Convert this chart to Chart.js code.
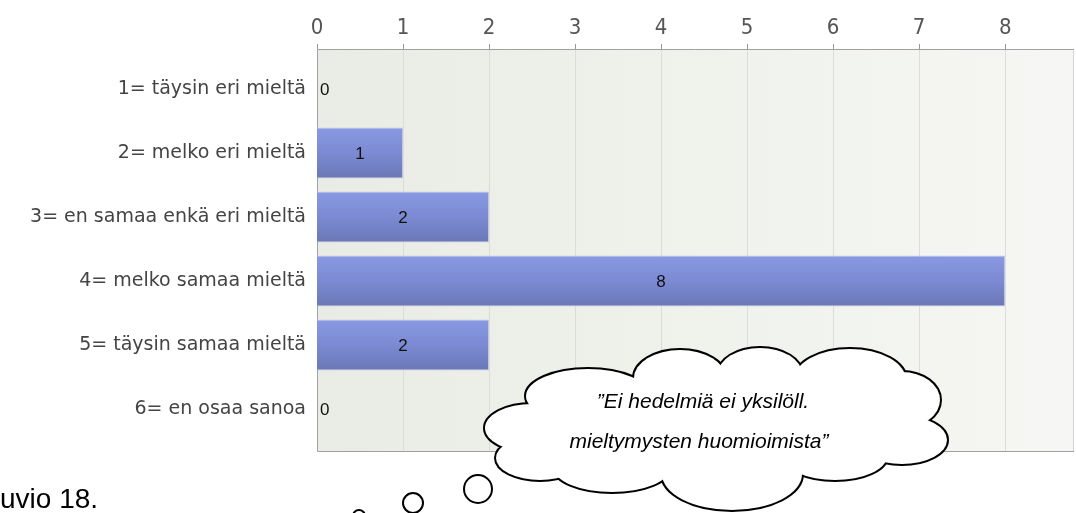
<!DOCTYPE html>
<html>
<head>
<meta charset="utf-8">
<script src="https://cdn.jsdelivr.net/npm/chart.js@4.4.1/dist/chart.umd.min.js"></script>
<style>
  html, body { margin: 0; padding: 0; background: #fff; overflow: hidden; }
</style>
</head>
<body>
<canvas id="chart" width="1076" height="513"></canvas>
<script>
const categories = [
  '1= täysin eri mieltä',
  '2= melko eri mieltä',
  '3= en samaa enkä eri mieltä',
  '4= melko samaa mieltä',
  '5= täysin samaa mieltä',
  '6= en osaa sanoa'
];
const counts = [0, 1, 2, 8, 2, 0];
const xTicks = [0, 1, 2, 3, 4, 5, 6, 7, 8];
const xMax = 8.8;
const bubbleLines = ['\u201dEi hedelmiä ei yksilöll.', 'mieltymysten huomioimista\u201d'];
const caption = 'uvio 18.';

const barPct = 0.8;

// plot background, grid lines and frame (drawn a bit larger than the category band)
const framePlugin = {
  id: 'frame',
  beforeDraw(chart) {
    const { ctx, chartArea } = chart;
    const xs = chart.scales.x;
    const left = xs.getPixelForValue(0);
    const right = chartArea.right;
    const top = chartArea.top - 8;
    const bottom = chartArea.bottom + 10;
    ctx.save();
    const g = ctx.createLinearGradient(left, 0, right, 0);
    g.addColorStop(0, '#e9ece4');
    g.addColorStop(1, '#f6f7f4');
    ctx.fillStyle = g;
    ctx.fillRect(left, top, right - left, bottom - top);

    ctx.lineWidth = 1;
    xTicks.forEach(v => {
      const px = Math.round(xs.getPixelForValue(v)) + 0.5;
      if (v > 0) {
        ctx.strokeStyle = '#dcdddb';
        ctx.beginPath();
        ctx.moveTo(px, top);
        ctx.lineTo(px, bottom);
        ctx.stroke();
      }
      ctx.strokeStyle = '#999';
      ctx.beginPath();
      ctx.moveTo(px, top - 5);
      ctx.lineTo(px, top);
      ctx.stroke();
    });

    ctx.strokeStyle = '#d4d4d4';
    ctx.beginPath();
    ctx.moveTo(right - 0.5, top);
    ctx.lineTo(right - 0.5, bottom);
    ctx.stroke();

    ctx.strokeStyle = '#a0a0a0';
    ctx.beginPath();
    ctx.moveTo(right, top + 0.5);
    ctx.lineTo(Math.round(left) + 0.5, top + 0.5);
    ctx.lineTo(Math.round(left) + 0.5, bottom + 0.5);
    ctx.lineTo(right, bottom + 0.5);
    ctx.stroke();
    ctx.restore();
  }
};

// value labels: centred in the bar, or just right of the axis for zero
const valueLabels = {
  id: 'valueLabels',
  afterDatasetsDraw(chart) {
    const { ctx } = chart;
    const meta = chart.getDatasetMeta(0);
    ctx.save();
    ctx.font = '17px "Liberation Sans", Arial, sans-serif';
    ctx.fillStyle = '#111';
    ctx.textBaseline = 'middle';
    meta.data.forEach((bar, i) => {
      const { x, y, base } = bar.getProps(['x', 'y', 'base'], true);
      const v = counts[i];
      if (v > 0) {
        ctx.textAlign = 'center';
        ctx.fillText(String(v), (x + base) / 2, y + 1);
      } else {
        ctx.textAlign = 'left';
        ctx.fillText(String(v), base + 3, y + 1);
      }
    });
    ctx.restore();
  }
};

// thought cloud + caption
const cloudPlugin = {
  id: 'cloud',
  afterDraw(chart) {
    const { ctx } = chart;
    ctx.save();
    // lobes as [cx, cy, rx, ry]
    const lobes = [
      [532, 428, 47, 24], [588, 396, 62, 27], [680, 378, 46, 28],
      [760, 374, 42, 26], [850, 380, 56, 31], [902, 400, 38, 28],
      [902, 440, 45, 24], [835, 456, 52, 24], [732, 474, 70, 36],
      [612, 468, 58, 24], [540, 458, 44, 22]
    ];
    const path = ([x, y, rx, ry]) => {
      ctx.beginPath();
      ctx.ellipse(x, y, rx, ry, 0, 0, Math.PI * 2);
    };
    ctx.strokeStyle = '#000';
    ctx.lineWidth = 4;
    lobes.forEach(l => { path(l); ctx.stroke(); });
    ctx.fillStyle = '#fff';
    lobes.forEach(l => { path(l); ctx.fill(); });
    path([716, 428, 185, 50]);
    ctx.fill();

    ctx.lineWidth = 2;
    [[478, 489, 14], [413, 503, 10], [359, 516, 6]].forEach(([x, y, r]) => {
      ctx.beginPath();
      ctx.arc(x, y, r, 0, Math.PI * 2);
      ctx.fill();
      ctx.stroke();
    });

    ctx.fillStyle = '#000';
    ctx.textAlign = 'center';
    ctx.textBaseline = 'middle';
    ctx.font = 'italic 21px "Liberation Sans", Arial, sans-serif';
    ctx.fillText(bubbleLines[0], 703, 402);
    ctx.fillText(bubbleLines[1], 699, 442);

    ctx.textAlign = 'left';
    ctx.textBaseline = 'alphabetic';
    ctx.font = '28px "Liberation Sans", Arial, sans-serif';
    ctx.fillText(caption, 0, 508);
    ctx.restore();
  }
};

new Chart(document.getElementById('chart'), {
  type: 'bar',
  data: {
    labels: categories,
    datasets: [{
      data: counts,
      backgroundColor: c => {
        const ys = c.chart.scales.y;
        if (!ys || ys.top === undefined) return '#7b8bd3';
        const center = ys.getPixelForValue(c.dataIndex);
        const half = (ys.getPixelForValue(1) - ys.getPixelForValue(0)) * barPct / 2;
        const g = c.chart.ctx.createLinearGradient(0, center - half, 0, center + half);
        g.addColorStop(0, '#8999e3');
        g.addColorStop(0.5, '#7b8ad2');
        g.addColorStop(1, '#6a78b6');
        return g;
      },
      borderColor: '#c3c8e6',
      borderWidth: 1,
      borderSkipped: 'start',
      categoryPercentage: 1,
      barPercentage: barPct
    }]
  },
  options: {
    indexAxis: 'y',
    responsive: false,
    animation: false,
    layout: { padding: { left: 0, right: 2, top: 0, bottom: 72 } },
    plugins: {
      legend: { display: false },
      tooltip: { enabled: false }
    },
    scales: {
      x: {
        position: 'top',
        min: 0,
        max: xMax,
        afterBuildTicks: s => { s.ticks = xTicks.map(v => ({ value: v })); },
        afterFit: s => { s.height = 57; },
        grid: { display: false, drawTicks: false },
        border: { display: false },
        ticks: {
          padding: 16,
          color: '#555',
          font: { family: '"Liberation Sans Narrow", "DejaVu Sans Condensed", sans-serif', size: 22 }
        }
      },
      y: {
        afterFit: s => { s.width = 317; },
        grid: { display: false, drawTicks: false },
        border: { display: false },
        ticks: {
          padding: 11,
          color: '#444',
          font: { family: '"DejaVu Sans", sans-serif', size: 19 }
        }
      }
    }
  },
  plugins: [framePlugin, valueLabels, cloudPlugin]
});
</script>
</body>
</html>
